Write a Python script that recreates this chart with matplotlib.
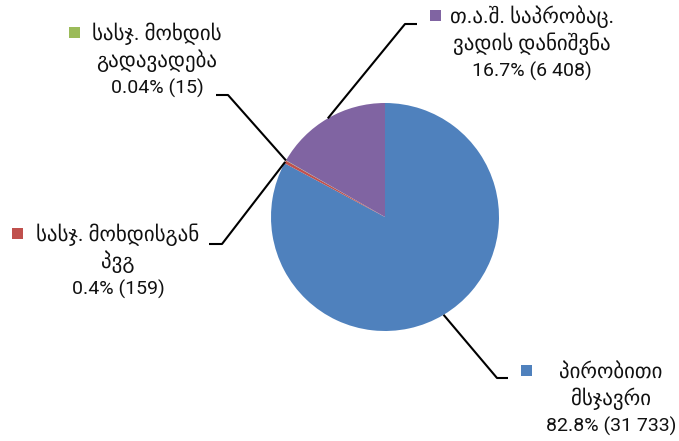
import numpy as np
import matplotlib.pyplot as plt
from matplotlib.patches import Rectangle

plt.rcParams['font.family'] = ['Roboto', 'DejaVu Sans']

# sentence categories and case counts
categories = [['პირობითი', 'მსჯავრი'],
              ['სასჯ. მოხდისგან', 'პვგ'],
              ['სასჯ. მოხდის', 'გადავადება'],
              ['თ.ა.შ. საპრობაც.', 'ვადის დანიშვნა']]
counts = [31733, 159, 15, 6408]
colors = ['#4F81BD', '#C0504D', '#9BBB59', '#8064A2']

W, H = 679, 441
fig = plt.figure(figsize=(W / 100, H / 100), dpi=100)
ax = fig.add_axes([0, 0, 1, 1])

center = (385, H - 217)
radius = 114
wedges, _ = ax.pie(counts, colors=colors, startangle=90, counterclock=False,
                   center=center, radius=radius, wedgeprops=dict(linewidth=0))
ax.set_xlim(0, W)
ax.set_ylim(0, H)
ax.set_aspect('equal')
ax.axis('off')

# label placement in pixels from the top-left: text centre x, last baseline y,
# legend key x, elbow point and end of the short horizontal leader segment
label_pos = [(611, 432), (118, 295), (157, 94), (532, 77)]
key_x = [521, 12, 69, 430]
elbows = [((497, 378), (508, 378)), ((222, 244), (209, 244)),
          ((228, 95), (216, 95)), ((405, 24), (417, 24))]
line_gap = 27

total = sum(counts)
for i, w in enumerate(wedges):
    pct = 100 * counts[i] / total
    pct_s = f"{pct:.2f}%" if pct < 0.1 else f"{pct:.1f}%"
    cnt_s = f"{counts[i]:,}".replace(',', ' ')
    x, y = label_pos[i]
    lines = categories[i]
    for j, line in enumerate(lines):
        ax.text(x, H - (y - (len(lines) - j) * line_gap), line, ha='center',
                va='baseline', fontsize=15, color='#111111')
    ax.text(x, H - y, f"{pct_s} ({cnt_s})", ha='center', va='baseline',
            fontsize=14, color='#111111')
    top = y - len(lines) * line_gap
    ax.add_patch(Rectangle((key_x[i], H - top + 2), 11, 11, color=colors[i], lw=0))

    # leader from the wedge's outer midpoint
    mid = np.deg2rad((w.theta1 + w.theta2) / 2)
    px = center[0] + radius * np.cos(mid)
    py = center[1] + radius * np.sin(mid)
    (ex, ey), (hx, hy) = elbows[i]
    ax.plot([px, ex, hx], [py, H - ey, H - hy], color='black', lw=1.5,
            solid_capstyle='butt')

fig.savefig('out.png', dpi=100)
